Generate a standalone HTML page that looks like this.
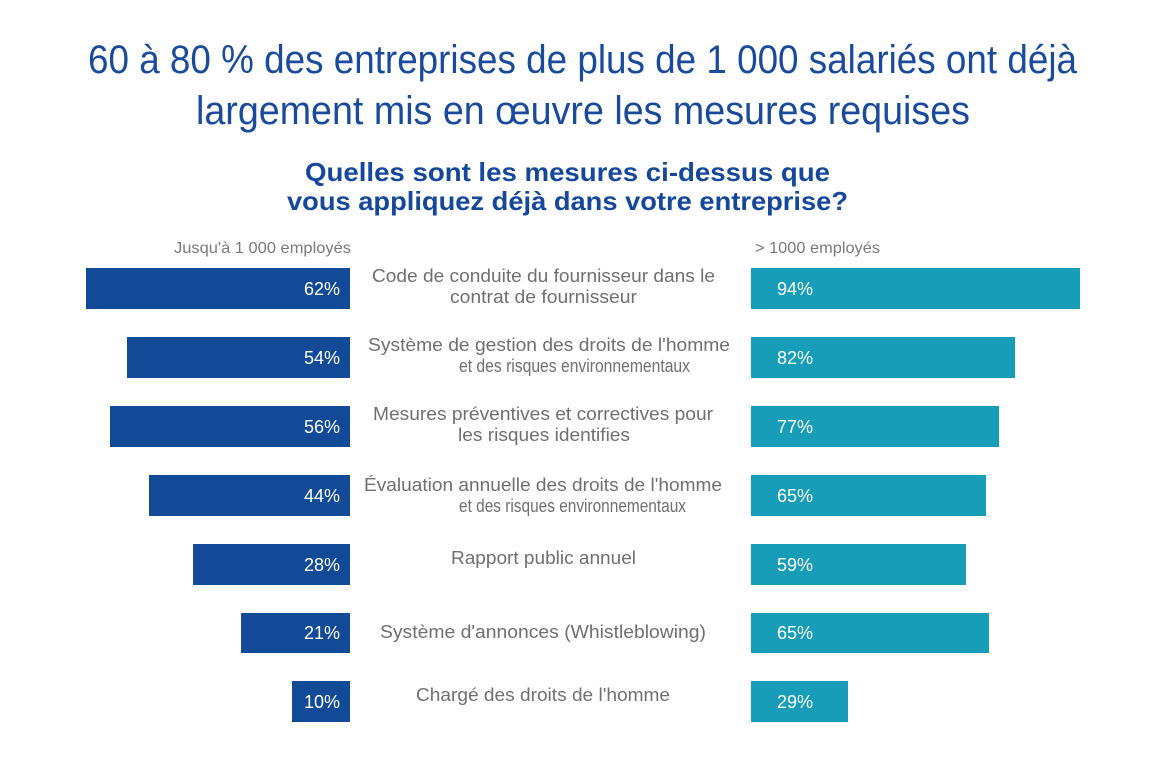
<!DOCTYPE html>
<html><head><meta charset="utf-8"><style>
html,body{margin:0;padding:0;background:#fff;}
svg{display:block;font-family:"Liberation Sans",sans-serif;}
.t{fill:#1a4a9c;font-size:40px;}
.s{fill:#15489a;font-size:26px;font-weight:bold;}
.l{fill:#6f6f6f;font-size:18px;}
.h{fill:#7a7a7a;font-size:16px;}
.p{fill:#fff;font-size:18px;}
</style></head><body>
<svg width="1152" height="779" viewBox="0 0 1152 779">
<text class="t" x="88" y="73" textLength="989" lengthAdjust="spacingAndGlyphs">60 à 80 % des entreprises de plus de 1 000 salariés ont déjà</text>
<text class="t" x="196" y="124" textLength="774" lengthAdjust="spacingAndGlyphs">largement mis en œuvre les mesures requises</text>
<text class="s" x="305" y="181" textLength="525" lengthAdjust="spacingAndGlyphs">Quelles sont les mesures ci-dessus que</text>
<text class="s" x="287" y="210" textLength="561" lengthAdjust="spacingAndGlyphs">vous appliquez déjà dans votre entreprise?</text>
<text class="h" x="174" y="253" textLength="177" lengthAdjust="spacingAndGlyphs">Jusqu'à 1 000 employés</text>
<text class="h" x="755" y="253" textLength="125" lengthAdjust="spacingAndGlyphs">&gt; 1000 employés</text>
<g fill="#134a98">
<rect x="86" y="268" width="264" height="41"/>
<rect x="127" y="337" width="223" height="41"/>
<rect x="110" y="406" width="240" height="41"/>
<rect x="149" y="475" width="201" height="41"/>
<rect x="193" y="544" width="157" height="41"/>
<rect x="241" y="613" width="109" height="40"/>
<rect x="292" y="681" width="58" height="41"/>
</g>
<g fill="#189db8">
<rect x="751" y="268" width="329" height="41"/>
<rect x="751" y="337" width="264" height="41"/>
<rect x="751" y="406" width="248" height="41"/>
<rect x="751" y="475" width="235" height="41"/>
<rect x="751" y="544" width="215" height="41"/>
<rect x="751" y="613" width="238" height="40"/>
<rect x="751" y="681" width="97" height="41"/>
</g>
<g class="p" text-anchor="end">
<text x="340" y="295">62%</text>
<text x="340" y="364">54%</text>
<text x="340" y="433">56%</text>
<text x="340" y="502">44%</text>
<text x="340" y="571">28%</text>
<text x="340" y="639">21%</text>
<text x="340" y="708">10%</text>
</g>
<g class="p">
<text x="777" y="295">94%</text>
<text x="777" y="364">82%</text>
<text x="777" y="433">77%</text>
<text x="777" y="502">65%</text>
<text x="777" y="571">59%</text>
<text x="777" y="639">65%</text>
<text x="777" y="708">29%</text>
</g>
<g class="l">
<text x="372" y="282" textLength="343" lengthAdjust="spacingAndGlyphs">Code de conduite du fournisseur dans le</text>
<text x="450" y="303" textLength="187" lengthAdjust="spacingAndGlyphs">contrat de fournisseur</text>
<text x="368" y="351" textLength="362" lengthAdjust="spacingAndGlyphs">Système de gestion des droits de l'homme</text>
<text x="459" y="372" textLength="231" lengthAdjust="spacingAndGlyphs">et des risques environnementaux</text>
<text x="373" y="420" textLength="340" lengthAdjust="spacingAndGlyphs">Mesures préventives et correctives pour</text>
<text x="458" y="441" textLength="172" lengthAdjust="spacingAndGlyphs">les risques identifies</text>
<text x="364" y="491" textLength="358" lengthAdjust="spacingAndGlyphs">Évaluation annuelle des droits de l'homme</text>
<text x="459" y="512" textLength="227" lengthAdjust="spacingAndGlyphs">et des risques environnementaux</text>
<text x="451" y="564" textLength="185" lengthAdjust="spacingAndGlyphs">Rapport public annuel</text>
<text x="380" y="638" textLength="326" lengthAdjust="spacingAndGlyphs">Système d'annonces (Whistleblowing)</text>
<text x="416" y="701" textLength="254" lengthAdjust="spacingAndGlyphs">Chargé des droits de l'homme</text>
</g>
</svg>
</body></html>
